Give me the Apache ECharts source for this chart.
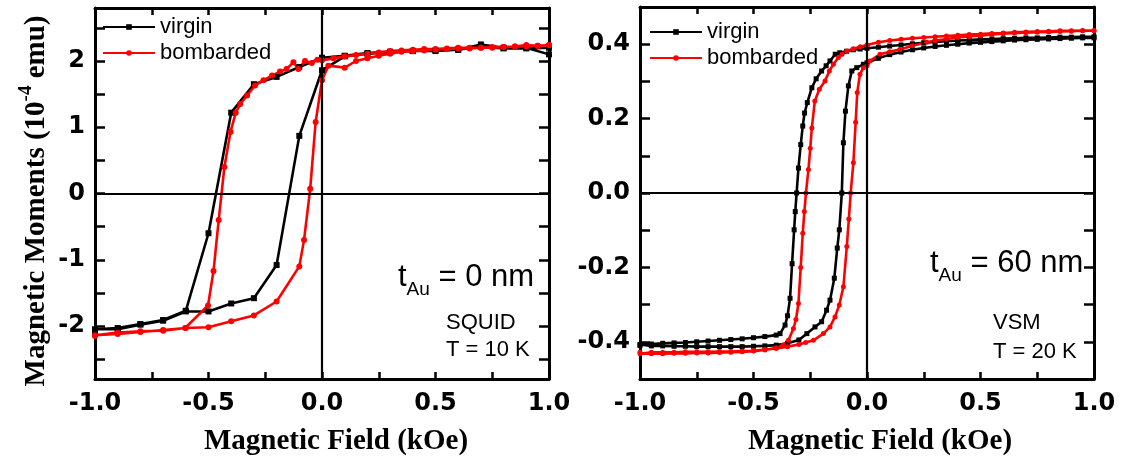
<!DOCTYPE html>
<html><head><meta charset="utf-8">
<script src="https://cdn.jsdelivr.net/npm/echarts@6/dist/echarts.min.js"></script>
<style>html,body{margin:0;padding:0;background:#fff}#c{width:1123px;height:460px}</style>
</head><body><div id="c"></div><script>
// ---------- DATA (field in kOe, moment) ----------
// Left panel: SQUID, T = 10 K, moment in 1e-4 emu
const squidVirginDown = [[1.0,2.20],[0.9,2.19],[0.8,2.19],[0.7,2.22],[0.6,2.17],[0.5,2.16],[0.4,2.15],[0.3,2.14],[0.2,2.12],[0.1,2.08],[0.0,2.05],[-0.1,1.91],[-0.2,1.76],[-0.3,1.65],[-0.4,1.22],[-0.5,-0.60],[-0.6,-1.77],[-0.7,-1.91],[-0.8,-1.97],[-0.9,-2.03],[-1.0,-2.05]];
const squidVirginUp = [[-1.0,-2.08],[-0.9,-2.05],[-0.8,-1.98],[-0.7,-1.92],[-0.6,-1.78],[-0.5,-1.78],[-0.4,-1.66],[-0.3,-1.58],[-0.2,-1.08],[-0.1,0.87],[0.0,1.86],[0.1,2.07],[0.2,2.11],[0.3,2.13],[0.4,2.15],[0.5,2.15],[0.6,2.17],[0.7,2.25],[0.8,2.20],[0.9,2.20],[1.0,2.10]];
const squidBombDown = [[1.0,2.24],[0.95,2.23],[0.9,2.24],[0.85,2.22],[0.8,2.21],[0.75,2.21],[0.7,2.20],[0.65,2.20],[0.6,2.20],[0.55,2.19],[0.5,2.18],[0.45,2.18],[0.4,2.17],[0.35,2.16],[0.3,2.15],[0.25,2.13],[0.2,2.11],[0.15,2.09],[0.1,2.07],[0.05,2.04],[0.0,2.01],[-0.02,2.02],[-0.045,1.97],[-0.075,2.00],[-0.104,1.88],[-0.126,1.98],[-0.156,1.88],[-0.185,1.84],[-0.22,1.78],[-0.258,1.71],[-0.295,1.63],[-0.33,1.48],[-0.36,1.35],[-0.38,1.22],[-0.403,0.93],[-0.43,0.40],[-0.455,-0.40],[-0.478,-1.17],[-0.502,-1.69],[-0.603,-2.03],[-0.7,-2.07],[-0.8,-2.08],[-0.9,-2.10],[-1.0,-2.14]];
const squidBombUp = [[-1.0,-2.15],[-0.9,-2.12],[-0.8,-2.09],[-0.7,-2.06],[-0.6,-2.03],[-0.5,-2.02],[-0.4,-1.93],[-0.3,-1.84],[-0.2,-1.63],[-0.1,-1.10],[-0.079,-0.70],[-0.052,0.07],[-0.028,1.08],[0.0,1.71],[0.028,1.93],[0.1,1.90],[0.15,2.00],[0.2,2.04],[0.25,2.08],[0.3,2.11],[0.35,2.14],[0.4,2.15],[0.45,2.16],[0.5,2.17],[0.55,2.18],[0.6,2.19],[0.65,2.19],[0.7,2.20],[0.75,2.20],[0.8,2.21],[0.85,2.22],[0.9,2.22],[0.95,2.23],[1.0,2.24]];
// Right panel: VSM, T = 20 K
const vsmVirginDown = [[1.0,.420],[.95,.420],[.9,.419],[.85,.419],[.8,.418],[.75,.417],[.7,.417],[.65,.416],[.6,.415],[.55,.414],[.5,.413],[.45,.411],[.4,.410],[.35,.408],[.3,.406],[.25,.404],[.2,.401],[.15,.398],[.1,.395],[.05,.392],[0,.389],[-.03,.387],[-.06,.385],[-.09,.381],[-.12,.377],[-.14,.373],[-.163,.355],[-.18,.342],[-.2,.328],[-.224,.307],[-.243,.283],[-.263,.243],[-.275,.215],[-.283,.180],[-.292,.130],[-.302,.067],[-.31,0],[-.316,-.050],[-.321,-.099],[-.33,-.190],[-.339,-.283],[-.35,-.330],[-.361,-.355],[-.383,-.378],[-.4,-.382],[-.45,-.386],[-.5,-.389],[-.55,-.392],[-.6,-.394],[-.65,-.396],[-.7,-.398],[-.75,-.400],[-.8,-.402],[-.85,-.403],[-.9,-.404],[-.95,-.406],[-1.0,-.407]];
const vsmVirginUp = [[-1.0,-.410],[-.95,-.411],[-.9,-.411],[-.85,-.412],[-.8,-.412],[-.75,-.413],[-.7,-.413],[-.65,-.413],[-.6,-.413],[-.55,-.413],[-.5,-.412],[-.45,-.411],[-.4,-.409],[-.35,-.404],[-.3,-.395],[-.265,-.378],[-.229,-.360],[-.2,-.346],[-.178,-.315],[-.163,-.288],[-.144,-.229],[-.131,-.148],[-.122,-.099],[-.111,0],[-.104,.135],[-.095,.220],[-.082,.288],[-.067,.328],[-.045,.337],[-.016,.346],[0,.350],[.05,.362],[.1,.372],[.15,.379],[.2,.385],[.25,.390],[.3,.394],[.35,.397],[.4,.400],[.45,.403],[.5,.405],[.55,.407],[.6,.409],[.65,.411],[.7,.412],[.75,.413],[.8,.414],[.85,.415],[.9,.416],[.95,.417],[1.0,.417]];
const vsmBombDown = [[1.0,.437],[.95,.437],[.9,.436],[.85,.436],[.8,.435],[.75,.434],[.7,.433],[.65,.432],[.6,.430],[.55,.429],[.5,.427],[.45,.426],[.4,.424],[.35,.422],[.3,.420],[.25,.418],[.2,.416],[.15,.413],[.1,.410],[.05,.405],[0,.398],[-.03,.393],[-.06,.388],[-.089,.382],[-.11,.373],[-.126,.364],[-.148,.346],[-.166,.328],[-.185,.301],[-.21,.279],[-.23,.247],[-.243,.175],[-.25,.120],[-.258,.063],[-.269,0],[-.276,-.050],[-.283,-.108],[-.292,-.200],[-.302,-.297],[-.313,-.340],[-.324,-.364],[-.346,-.396],[-.37,-.409],[-.4,-.416],[-.45,-.422],[-.5,-.425],[-.55,-.427],[-.6,-.428],[-.65,-.429],[-.7,-.430],[-.75,-.430],[-.8,-.431],[-.85,-.431],[-.9,-.432],[-.95,-.432],[-1.0,-.432]];
const vsmBombUp = [[-1.0,-.428],[-.95,-.428],[-.9,-.428],[-.85,-.428],[-.8,-.427],[-.75,-.427],[-.7,-.427],[-.65,-.426],[-.6,-.426],[-.55,-.425],[-.5,-.424],[-.45,-.421],[-.4,-.418],[-.35,-.413],[-.3,-.407],[-.27,-.402],[-.236,-.396],[-.192,-.378],[-.163,-.360],[-.141,-.333],[-.122,-.301],[-.104,-.252],[-.089,-.144],[-.08,-.070],[-.072,0],[-.06,.081],[-.05,.190],[-.043,.270],[-.031,.319],[-.016,.337],[0,.342],[.013,.355],[.057,.373],[.1,.380],[.145,.386],[.2,.396],[.263,.405],[.3,.410],[.35,.414],[.4,.418],[.45,.421],[.5,.423],[.55,.426],[.6,.428],[.65,.430],[.7,.431],[.75,.432],[.8,.433],[.85,.434],[.9,.435],[.95,.436],[1.0,.436]];

// ---------- AXIS TICKS / LABELS ----------
const fieldLabels = [-1, -0.5, 0, 0.5, 1];
const squidYLabels = [-2, -1, 0, 1, 2];
const squidYTicks = [-2.5, -2, -1.5, -1, -0.5, 0, 0.5, 1, 1.5, 2, 2.5];
const vsmYLabels = [-0.4, -0.2, 0, 0.2, 0.4];
const vsmYTicks = [-0.4, -0.3, -0.2, -0.1, 0, 0.1, 0.2, 0.3, 0.4];
const seriesNames = ['virgin', 'bombarded'];

// ---------- STYLE HELPERS ----------
const tickFont = {fontFamily:'DejaVu Sans', fontWeight:'bold', fontSize:24, color:'#000'};
function xAx(grid, pos, show){
  return {type:'value', gridIndex:grid, position:pos, min:-1, max:1, interval:0.25,
    axisLine:{show:true, onZero:false, lineStyle:{color:'#000', width:3}},
    axisTick:{show:true, inside:true, length:7, lineStyle:{color:'#000', width:2.5}},
    axisLabel:Object.assign({show:show, customValues:fieldLabels, formatter:v=>(+v).toFixed(1), margin:13}, tickFont),
    splitLine:{show:false}};
}
function yAx(grid, pos, show, min, max, ticks, labels, fmt){
  return {type:'value', gridIndex:grid, position:pos, min:min, max:max,
    axisLine:{show:true, onZero:false, lineStyle:{color:'#000', width:3}},
    axisTick:{show:true, inside:true, length:10, customValues:ticks, lineStyle:{color:'#000', width:2.5}},
    axisLabel:Object.assign({show:show, customValues:labels, formatter:fmt, margin:10}, tickFont),
    splitLine:{show:false}};
}
const zeroLines = {silent:true, symbol:['none','none'], animation:false,
  label:{show:false}, lineStyle:{color:'#000', width:2.2, type:'solid'},
  emphasis:{disabled:true}, data:[{xAxis:0},{yAxis:0}]};
function ser(name, xi, yi, data, color, symbol, size, withZero){
  const s = {type:'line', name:name, xAxisIndex:xi, yAxisIndex:yi, data:data,
    symbol:symbol, symbolSize:size, showSymbol:true,
    lineStyle:{color:color, width:2.6}, itemStyle:{color:color},
    emphasis:{disabled:true}, z:3};
  if (withZero) s.markLine = zeroLines;
  return s;
}
function legendAt(left, top){
  return {data:seriesNames, orient:'vertical', left:left, top:top, padding:0,
    itemWidth:52, itemHeight:7, itemGap:4, selectedMode:false,
    textStyle:{fontFamily:'Liberation Sans', fontSize:22, color:'#000', lineHeight:22}};
}
const serif = 'Liberation Serif';
function plainText(x, y, text, size){
  return {type:'text', x:x, y:y, silent:true,
    style:{text:text, fontFamily:'Liberation Sans', fontSize:size, fill:'#000',
      textAlign:'left', textVerticalAlign:'middle', align:'left', verticalAlign:'middle'}};
}
function tAu(x, y, rest){
  return {type:'text', x:x, y:y, silent:true,
    style:{text:'{m|t}{s|Au}{m|' + rest + '}', fill:'#000',
      rich:{m:{fontFamily:'Liberation Sans', fontSize:31, lineHeight:44, fill:'#000'},
            s:{fontFamily:'Liberation Sans', fontSize:19, lineHeight:19, verticalAlign:'bottom', fill:'#000'}},
      textAlign:'left', textVerticalAlign:'middle', align:'left', verticalAlign:'middle'}};
}

const option = {
  animation:false,
  backgroundColor:'#fff',
  grid:[
    {left:95, top:8, width:454, height:371},
    {left:640, top:7, width:454, height:372}
  ],
  xAxis:[ xAx(0,'bottom',true), xAx(0,'top',false), xAx(1,'bottom',true), xAx(1,'top',false) ],
  yAxis:[
    yAx(0,'left',true,-2.8,2.8,squidYTicks,squidYLabels,v=>String(Math.round(v))),
    yAx(0,'right',false,-2.8,2.8,squidYTicks,squidYLabels,v=>String(v)),
    yAx(1,'left',true,-0.5,0.5,vsmYTicks,vsmYLabels,v=>(+v).toFixed(1)),
    yAx(1,'right',false,-0.5,0.5,vsmYTicks,vsmYLabels,v=>(+v).toFixed(1))
  ],
  legend:[ legendAt(102,16), legendAt(649,21) ],
  series:[
    ser('virgin',0,0,squidVirginDown.concat(squidVirginUp),'#000','rect',6,true),
    ser('bombarded',0,0,squidBombDown.concat(squidBombUp),'#ff0000','circle',6,false),
    ser('virgin',2,2,vsmVirginDown.concat(vsmVirginUp),'#000','rect',5,true),
    ser('bombarded',2,2,vsmBombDown.concat(vsmBombUp),'#ff0000','circle',5,false)
  ],
  graphic:[
    {type:'text', x:336, y:442, silent:true,
      style:{text:'Magnetic Field (kOe)', fontFamily:serif, fontWeight:'bold', fontSize:29, fill:'#000',
        textAlign:'center', textVerticalAlign:'middle', align:'center', verticalAlign:'middle'}},
    {type:'text', x:880, y:442, silent:true,
      style:{text:'Magnetic Field (kOe)', fontFamily:serif, fontWeight:'bold', fontSize:29, fill:'#000',
        textAlign:'center', textVerticalAlign:'middle', align:'center', verticalAlign:'middle'}},
    {type:'text', x:37, y:201, rotation:Math.PI/2, silent:true,
      style:{text:'{a|Magnetic Moments (10}{s|-4}{a| emu)}', fill:'#000',
        rich:{a:{fontFamily:serif, fontWeight:'bold', fontSize:29, lineHeight:40, fill:'#000'},
              s:{fontFamily:serif, fontWeight:'bold', fontSize:19, lineHeight:17, verticalAlign:'top', fill:'#000'}},
        textAlign:'center', textVerticalAlign:'middle', align:'center', verticalAlign:'middle'}},
    tAu(398, 277, ' = 0 nm'),
    tAu(930, 263, ' = 60 nm'),
    plainText(446, 323, 'SQUID', 22),
    plainText(446, 350, 'T = 10 K', 22),
    plainText(993, 323, 'VSM', 22),
    plainText(993, 352, 'T = 20 K', 22)
  ]
};
const chart = echarts.init(document.getElementById('c'), null, {renderer:'canvas'});
chart.setOption(option);
</script></body></html>
